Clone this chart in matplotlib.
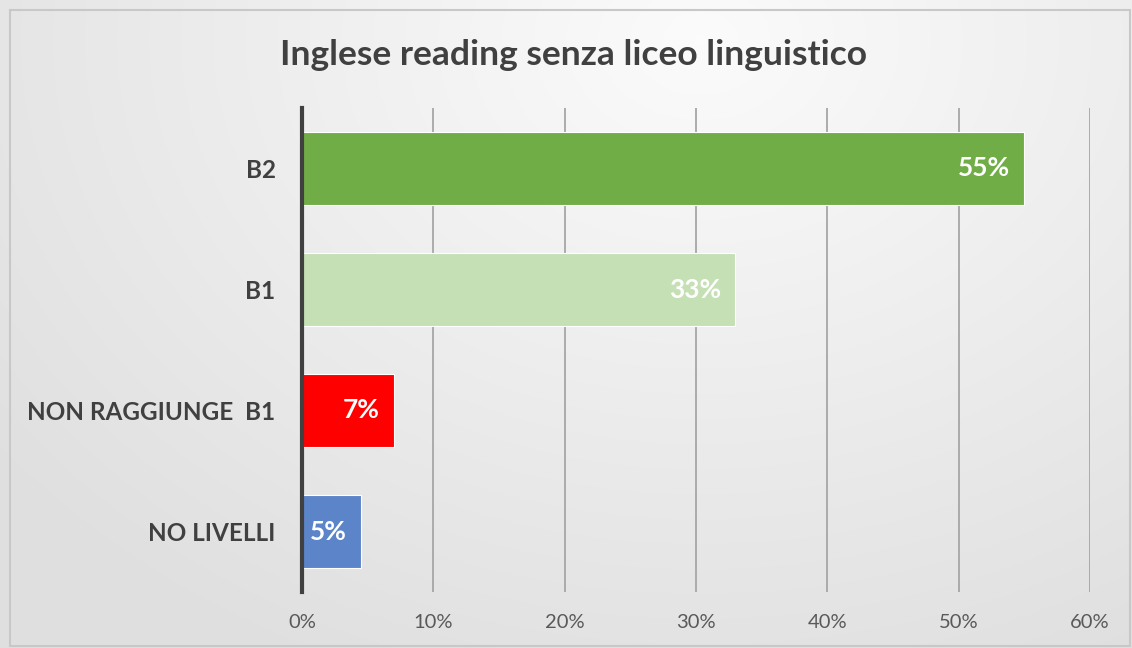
import numpy as np
import matplotlib.pyplot as plt
from matplotlib.patches import Rectangle

# data
categories = ["NO LIVELLI", "NON RAGGIUNGE  B1", "B1", "B2"]
values = [4.5, 7, 33, 55]
value_labels = ["5%", "7%", "33%", "55%"]
colors = ["#5B84C9", "#FF0000", "#C5E0B4", "#70AD47"]
xticks = [0, 10, 20, 30, 40, 50, 60]

plt.rcParams['font.family'] = ['Lato', 'DejaVu Sans']

fig = plt.figure(figsize=(11.32, 6.48), dpi=100)

# background gradient
bg = fig.add_axes([0, 0, 1, 1])
yy, xx = np.mgrid[0:648, 0:1132]
d = np.sqrt(((xx - 700) / 900.0) ** 2 + ((yy - 40) / 700.0) ** 2)
shade = 0.985 - 0.11 * np.clip(d, 0, 1)
bg.imshow(np.dstack([shade, shade, shade]), extent=[0, 1132, 648, 0], aspect='auto')
bg.add_patch(Rectangle((10, 10), 1120, 636, fill=False, edgecolor="#c8c8c8", lw=1.5))
bg.set_xlim(0, 1132)
bg.set_ylim(648, 0)
bg.axis('off')

# plot area: x 302..1090, y 108..592
ax = fig.add_axes([302 / 1132, 1 - 592 / 648, 788 / 1132, 484 / 648])
ax.patch.set_alpha(0)
y = np.arange(len(categories))
bars = ax.barh(y, values, height=0.6, color=colors, edgecolor="white", linewidth=0.8, zorder=3)
ax.set_xlim(0, 60)
ax.set_ylim(-0.5, 3.5)
ax.set_xticks(xticks)
ax.set_xticklabels([f"{t}%" for t in xticks], fontsize=14.5, color="#595959")
ax.set_yticks(y)
ax.set_yticklabels(categories, fontsize=17.5, fontweight='bold', color="#404040")
ax.grid(axis='x', color="#a6a6a6", linewidth=1.3, zorder=0)
ax.tick_params(axis='x', length=0, pad=16)
ax.tick_params(axis='y', length=0, pad=19)
for s in ["top", "right", "bottom"]:
    ax.spines[s].set_visible(False)
ax.spines["left"].set_color("#404040")
ax.spines["left"].set_linewidth(3)
ax.spines["left"].set_zorder(4)

for b, lab in zip(bars, value_labels):
    ax.text(b.get_width() - 1.1, b.get_y() + b.get_height() / 2, lab,
            ha='right', va='center', color='white', fontsize=19, fontweight='bold', zorder=5)

fig.text(574 / 1132, 1 - 55 / 648, "Inglese reading senza liceo linguistico",
         ha='center', va='center', fontsize=25.5, fontweight='bold', color="#404040")

fig.savefig("out.png", dpi=100)
